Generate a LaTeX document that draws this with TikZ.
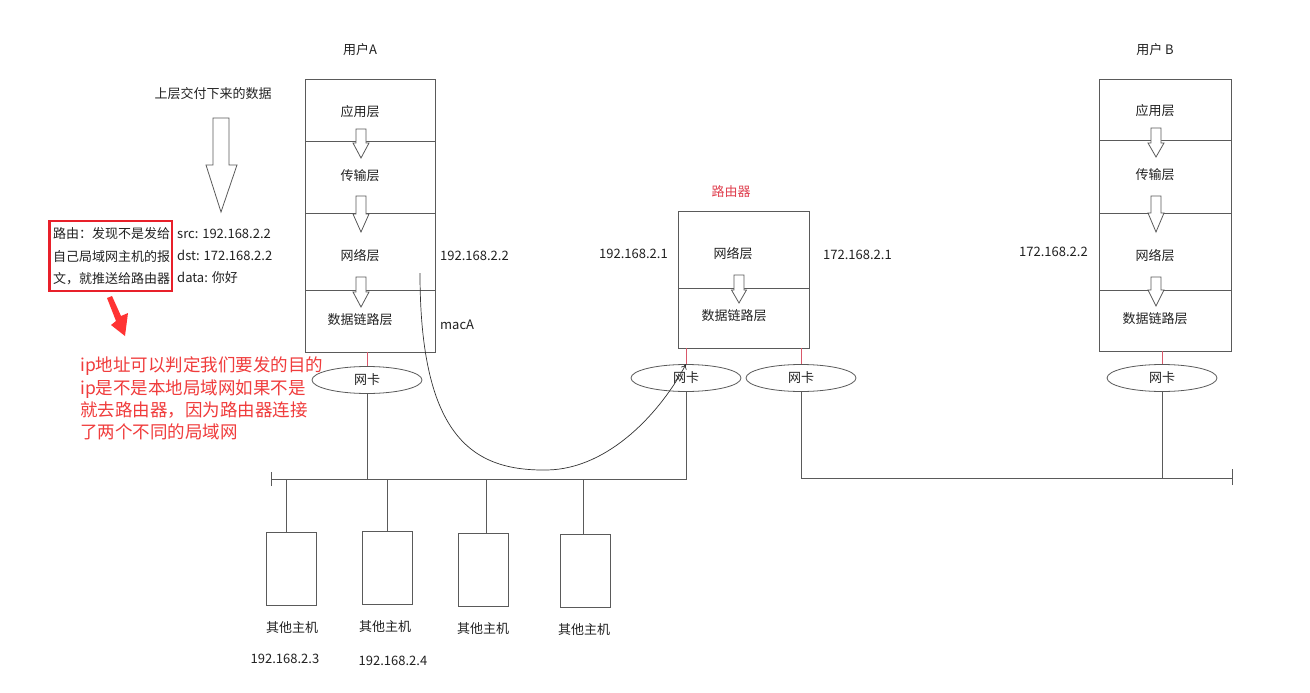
\documentclass[tikz,border=0pt]{standalone}
\usepackage{fontspec}
\setmainfont{Noto Sans CJK SC}
\usetikzlibrary{shapes.geometric,arrows.meta}
\definecolor{ln}{HTML}{5A5A5A}
\definecolor{txt}{HTML}{222222}
\definecolor{redtxt}{HTML}{F03C3C}
\definecolor{stubred}{HTML}{D9586A}
\definecolor{boxred}{HTML}{E8202A}
\definecolor{arrred}{HTML}{FF3333}
\definecolor{routerred}{HTML}{E0404F}
\tikzset{
  layerbox/.style={draw=ln, line width=0.8pt, inner sep=0pt},
  lbl/.style={text=txt, font=\fontsize{13}{15}\selectfont, inner sep=0pt},
  nic/.style={ellipse, draw=ln, line width=0.8pt, minimum width=110pt, minimum height=27pt, inner sep=0pt, text=txt, font=\fontsize{13}{15}\selectfont},
  wire/.style={draw=ln, line width=0.8pt},
  stub/.style={draw=stubred, line width=0.8pt},
  hostbox/.style={draw=ln, line width=0.8pt, minimum width=50pt, minimum height=73pt, inner sep=0pt},
  hollow/.style={draw=ln, line width=0.8pt, fill=white, line join=miter},
}
\newcommand\hollowdown[6]{%
  \draw[hollow] ({#1-#5},#2) -- ({#1+#5},#2) -- ({#1+#5},#3) -- ({#1+#6},#3) -- (#1,#4) -- ({#1-#6},#3) -- ({#1-#5},#3) -- cycle;}
\begin{document}
\begin{tikzpicture}[x=1pt,y=-1pt]
\useasboundingbox (0,0) rectangle (1310,693);
\fill[white] (0,0) rectangle (1310,693);

% ---------- User A ----------
\node[lbl] (userA) at (360,50) {用户A};
\node[layerbox, minimum width=130pt, minimum height=62pt] (aApp) at (370,110) {};
\node[layerbox, minimum width=130pt, minimum height=72pt] (aTr) at (370,177) {};
\node[layerbox, minimum width=130pt, minimum height=77pt] (aNet) at (370,251.5) {};
\node[layerbox, minimum width=130pt, minimum height=62pt] (aDL) at (370,321) {};
\node[lbl] (aAppT) at (360,112) {应用层};
\node[lbl] (aTrT) at (360,176) {传输层};
\node[lbl] (aNetT) at (360,256) {网络层};
\node[lbl] (aDLT) at (360,320) {数据链路层};
\hollowdown{361}{129}{143}{158}{5}{8}
\hollowdown{361}{196}{214}{232}{5}{8}
\hollowdown{361}{277}{292}{307}{5}{8}
\node[lbl, anchor=west] (aIP) at (440,256) {192.168.2.2};
\node[lbl, anchor=west] (aMac) at (440,325) {macA};

% ---------- Router ----------
\node[lbl, text=routerred] (router) at (731,192) {路由器};
\node[layerbox, minimum width=131pt, minimum height=77pt] (rNet) at (743.5,249.5) {};
\node[layerbox, minimum width=131pt, minimum height=60pt] (rDL) at (743.5,318) {};
\node[lbl] (rNetT) at (733,254) {网络层};
\node[lbl] (rDLT) at (734,316) {数据链路层};
\hollowdown{739}{275}{290}{303}{5}{7.5}
\node[lbl, anchor=west] (rIPL) at (599,254) {192.168.2.1};
\node[lbl, anchor=west] (rIPR) at (823,255) {172.168.2.1};

% ---------- User B ----------
\node[lbl] (userB) at (1155,50) {用户 B};
\node[layerbox, minimum width=132pt, minimum height=61pt] (bApp) at (1165,109.5) {};
\node[layerbox, minimum width=132pt, minimum height=73pt] (bTr) at (1165,176.5) {};
\node[layerbox, minimum width=132pt, minimum height=77pt] (bNet) at (1165,251.5) {};
\node[layerbox, minimum width=132pt, minimum height=61pt] (bDL) at (1165,320.5) {};
\node[lbl] (bAppT) at (1155,111) {应用层};
\node[lbl] (bTrT) at (1155,175) {传输层};
\node[lbl] (bNetT) at (1155,256) {网络层};
\node[lbl] (bDLT) at (1155,319) {数据链路层};
\hollowdown{1156}{128}{143}{157}{5}{8}
\hollowdown{1156}{196}{213}{232}{5}{8}
\hollowdown{1156}{277}{290}{306}{5}{8}
\node[lbl, anchor=west] (bIP) at (1019,252) {172.168.2.2};

% ---------- NICs ----------
\node[nic] (aNic) at (367,380) {网卡};
\node[nic] (rNicL) at (686,378) {网卡};
\node[nic] (rNicR) at (801,378) {网卡};
\node[nic] (bNic) at (1162,378) {网卡};
\draw[stub] (aNic.north |- aDL.south) -- (aNic.north);
\draw[stub] (rNicL.north |- rDL.south) -- (rNicL.north);
\draw[stub] (rNicR.north |- rDL.south) -- (rNicR.north);
\draw[stub] (bNic.north |- bDL.south) -- (bNic.north);

% ---------- Buses ----------
\coordinate (busL0) at (271,479);
\coordinate (busR1) at (1232,478);
\draw[wire] (busL0) -- (rNicL.south |- busL0) -- (rNicL.south);
\draw[wire] ([yshift=-7pt]busL0) -- ([yshift=7pt]busL0);
\draw[wire] (aNic.south) -- (aNic.south |- busL0);
\draw[wire] (rNicR.south) -- (rNicR.south |- busR1) -- (busR1);
\draw[wire] ([yshift=-7pt]busR1) -- ([yshift=9pt]busR1);
\draw[wire] (bNic.south) -- (bNic.south |- busR1);

% ---------- Hosts ----------
\node[hostbox] (host1) at (291,568.5) {};
\node[hostbox] (host2) at (387,568) {};
\node[hostbox] (host3) at (483,569.5) {};
\node[hostbox] (host4) at (585,570.5) {};
\draw[wire] ([xshift=-5pt]host1.north |- busL0) -- ([xshift=-5pt]host1.north);
\draw[wire] (host2.north |- busL0) -- (host2.north);
\draw[wire] ([xshift=3pt]host3.north |- busL0) -- ([xshift=3pt]host3.north);
\draw[wire] ([xshift=-2pt]host4.north |- busL0) -- ([xshift=-2pt]host4.north);
\node[lbl] (h1T) at (292,628) {其他主机};
\node[lbl] (h2T) at (385,627) {其他主机};
\node[lbl] (h3T) at (483,629) {其他主机};
\node[lbl] (h4T) at (584,630) {其他主机};
\node[lbl] (h1IP) at (285,659) {192.168.2.3};
\node[lbl] (h2IP) at (393,661) {192.168.2.4};

% ---------- Path curve ----------
\coordinate (curveStart) at (420,273);
\draw[draw=black!80, line width=0.7pt, -{To[length=5pt,width=6pt]}] (curveStart) .. controls (420,440) and (475,471) .. (547,470) .. controls (610,469) and (662,410) .. (rNicL.north);

% ---------- Left annotations ----------
\node[lbl] (upper) at (213,94) {上层交付下来的数据};
\draw[hollow] (213,118) -- (229,118) -- (229,165) -- (237,165) -- (221,212) -- (206,165) -- (213,165) -- cycle;
\node[draw=boxred, line width=1.2pt, minimum width=122pt, minimum height=70pt, inner sep=0pt] (redbox) at (111,256) {};
\draw[boxred, line width=3pt] (redbox.south west) -- (redbox.north west);
\node[lbl, align=left, anchor=west, font=\fontsize{13}{22.5}\selectfont] (routeT) at (53,256.5) {路由：发现不是发给\\自己局域网主机的报\\文，就推送给路由器};
\node[lbl, align=left, anchor=west, font=\fontsize{13}{22}\selectfont] (pkt) at (177,256) {src: 192.168.2.2\\dst: 172.168.2.2\\data: 你好};
\fill[arrred] (107,298) -- (112,296) -- (121,316) -- (128,313) -- (125,336) -- (111,325) -- (116,321) -- cycle;
\node[anchor=west, align=left, inner sep=0pt, text=redtxt, font=\fontsize{17.5}{22.3}\selectfont] (note) at (80,398.5) {ip地址可以判定我们要发的目的\\ip是不是本地局域网如果不是\\就去路由器，因为路由器连接\\了两个不同的局域网};
\end{tikzpicture}
\end{document}
